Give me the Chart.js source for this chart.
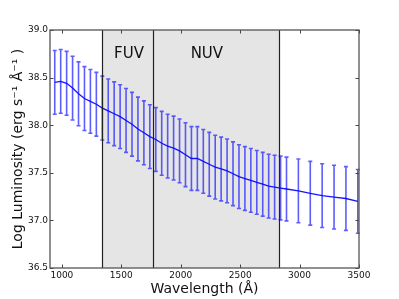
<!DOCTYPE html>
<html>
<head>
<meta charset="utf-8">
<script src="https://cdn.jsdelivr.net/npm/chart.js@4"></script>
<style>
  html, body { margin: 0; padding: 0; background: #fff; }
  #wrap { width: 399px; height: 299px; }
</style>
</head>
<body>
<div id="wrap"><canvas id="lumChart" width="399" height="299"></canvas></div>
<script>
// wavelength samples (Angstrom) and log luminosity
const wavelengths = [940, 990, 1040, 1090, 1140, 1190, 1240, 1290, 1340, 1390,
  1440, 1490, 1540, 1590, 1640, 1690, 1740, 1790, 1840, 1890,
  1940, 1990, 2040, 2090, 2140, 2190, 2240, 2290, 2340, 2390,
  2440, 2490, 2540, 2590, 2640, 2690, 2740, 2790, 2840, 2890,
  2990, 3090, 3190, 3290, 3390, 3490];
const logLum = [38.45, 38.46, 38.44, 38.39, 38.33, 38.28, 38.25, 38.22, 38.18, 38.15,
  38.12, 38.09, 38.05, 38.01, 37.96, 37.92, 37.88, 37.85, 37.81, 37.78,
  37.76, 37.73, 37.69, 37.65, 37.65, 37.62, 37.59, 37.56, 37.54, 37.52,
  37.49, 37.46, 37.44, 37.42, 37.40, 37.38, 37.36, 37.35, 37.34, 37.33,
  37.31, 37.285, 37.26, 37.245, 37.23, 37.20];
const logLumErr = wavelengths.map(() => 0.335);

// band edges: FUV start, FUV/NUV boundary, NUV end
const bandEdges = [1340, 1770, 2830];
const bandNames = ['FUV', 'NUV'];
const bandLabelX = [1565, 2220];
const bandLabelY = 38.75;

const xTicks = [1000, 1500, 2000, 2500, 3000, 3500];
const yTicks = [36.5, 37.0, 37.5, 38.0, 38.5, 39.0];

const FONT = 'DejaVu Sans';

const overlay = {
  id: 'overlay',
  beforeDatasetsDraw(chart) {
    const { ctx, chartArea: a, scales: { x, y } } = chart;
    ctx.save();
    // shaded UV band
    const x0 = x.getPixelForValue(bandEdges[0]);
    const x1 = x.getPixelForValue(bandEdges[bandEdges.length - 1]);
    ctx.fillStyle = '#e5e5e5';
    ctx.fillRect(x0, a.top, x1 - x0, a.bottom - a.top);

    // error bars
    ctx.strokeStyle = 'rgba(40,40,255,0.75)';
    ctx.lineWidth = 1.6;
    wavelengths.forEach((w, i) => {
      const px = x.getPixelForValue(w);
      const yt = y.getPixelForValue(logLum[i] + logLumErr[i]);
      const yb = y.getPixelForValue(logLum[i] - logLumErr[i]);
      ctx.beginPath();
      ctx.moveTo(px, yt); ctx.lineTo(px, yb);
      ctx.moveTo(px - 2, yt); ctx.lineTo(px + 2, yt);
      ctx.moveTo(px - 2, yb); ctx.lineTo(px + 2, yb);
      ctx.stroke();
    });
    ctx.restore();
  },
  afterDatasetsDraw(chart) {
    const { ctx, chartArea: a, scales: { x, y } } = chart;
    ctx.save();
    // band boundaries
    ctx.strokeStyle = '#222';
    ctx.lineWidth = 1.2;
    bandEdges.forEach(w => {
      const px = Math.round(x.getPixelForValue(w)) + 0.5;
      ctx.beginPath();
      ctx.moveTo(px, a.top); ctx.lineTo(px, a.bottom);
      ctx.stroke();
    });

    // band labels
    ctx.fillStyle = '#111';
    ctx.font = '15px "' + FONT + '"';
    ctx.textAlign = 'center';
    ctx.textBaseline = 'middle';
    bandNames.forEach((n, i) => {
      ctx.fillText(n, x.getPixelForValue(bandLabelX[i]), y.getPixelForValue(bandLabelY));
    });

    // inward ticks on all four sides
    ctx.strokeStyle = '#444';
    ctx.lineWidth = 1;
    const tl = 3.5;
    xTicks.forEach(v => {
      const px = Math.round(x.getPixelForValue(v)) + 0.5;
      ctx.beginPath();
      ctx.moveTo(px, a.bottom); ctx.lineTo(px, a.bottom - tl);
      ctx.moveTo(px, a.top); ctx.lineTo(px, a.top + tl);
      ctx.stroke();
    });
    yTicks.forEach(v => {
      const py = Math.round(y.getPixelForValue(v)) + 0.5;
      ctx.beginPath();
      ctx.moveTo(a.left, py); ctx.lineTo(a.left + tl, py);
      ctx.moveTo(a.right, py); ctx.lineTo(a.right - tl, py);
      ctx.stroke();
    });

    // frame
    ctx.strokeStyle = '#555';
    ctx.lineWidth = 1.3;
    ctx.strokeRect(a.left, a.top, a.right - a.left, a.bottom - a.top);
    ctx.restore();
  }
};

const ctx = document.getElementById('lumChart').getContext('2d');
const chart = new Chart(ctx, {
  type: 'line',
  data: {
    datasets: [{
      data: wavelengths.map((w, i) => ({ x: w, y: logLum[i] })),
      borderColor: 'rgba(10,10,255,0.95)',
      borderWidth: 1.3,
      pointRadius: 0,
      tension: 0,
      fill: false
    }]
  },
  options: {
    responsive: false,
    animation: false,
    devicePixelRatio: 1,
    layout: { padding: { top: 30, right: 40, left: 0, bottom: 0 } },
    plugins: {
      legend: { display: false },
      tooltip: { enabled: false }
    },
    scales: {
      x: {
        type: 'linear',
        min: 900,
        max: 3500,
        grid: { display: false, drawTicks: false },
        border: { display: false },
        afterBuildTicks: s => { s.ticks = xTicks.map(v => ({ value: v })); },
        afterFit: s => { s.height = 31; },
        ticks: {
          padding: 2,
          maxRotation: 0,
          color: '#111',
          font: { family: FONT, size: 9 },
          callback: v => String(v)
        },
        title: {
          display: true,
          text: 'Wavelength (Å)',
          color: '#111',
          font: { family: FONT, size: 14 },
          padding: { top: 0, bottom: 1 }
        }
      },
      y: {
        min: 36.5,
        max: 39.0,
        grid: { display: false, drawTicks: false },
        border: { display: false },
        afterBuildTicks: s => { s.ticks = yTicks.map(v => ({ value: v })); },
        afterFit: s => { s.width = 50; },
        ticks: {
          padding: 2,
          color: '#111',
          font: { family: FONT, size: 9 },
          callback: v => v.toFixed(1)
        },
        title: {
          display: true,
          text: 'Log Luminosity (erg s⁻¹ Å⁻¹ )',
          color: '#111',
          font: { family: FONT, size: 14 },
          padding: { top: 10, bottom: 0 }
        }
      }
    }
  },
  plugins: [overlay]
});
</script>
</body>
</html>
